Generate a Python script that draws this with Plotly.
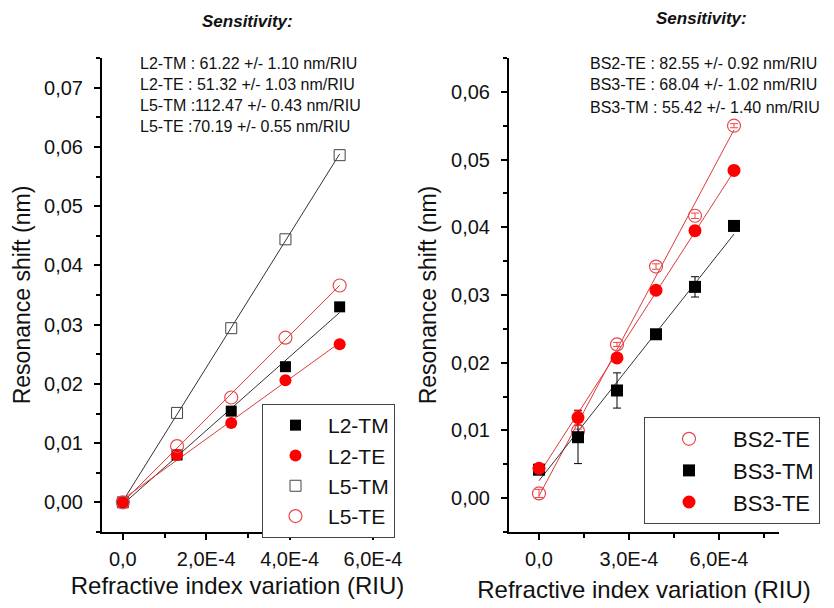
import numpy as np
import plotly.graph_objects as go

# ---------------- data ----------------
x_left = [0, 1.3e-4, 2.6e-4, 3.9e-4, 5.2e-4]
l2_tm = [0, 0.0080, 0.0154, 0.0229, 0.0330]
l2_te = [0, 0.0080, 0.0134, 0.0206, 0.0267]
l5_tm = [0, 0.0151, 0.0294, 0.0444, 0.0586]
l5_te = [0, 0.0095, 0.0177, 0.0278, 0.0366]

x_right = [0, 1.3e-4, 2.6e-4, 3.9e-4, 5.2e-4, 6.5e-4]
bs2_te = [0.0007, 0.0099, 0.0227, 0.0342, 0.0417, 0.0550]
bs2_te_err = [0.0006, 0.0003, 0.0003, 0.0004, 0.0004, 0.0003]
bs3_tm = [0.0042, 0.0090, 0.0159, 0.0242, 0.0312, 0.0402]
bs3_tm_err = [0.0003, 0.0039, 0.0026, 0.0004, 0.0015, 0.0003]
bs3_te = [0.0044, 0.0119, 0.0207, 0.0307, 0.0395, 0.0484]
bs3_te_err = [0.0002, 0.0011, 0.0003, 0.0003, 0.0003, 0.0002]

left_sens = ["L2-TM : 61.22 +/- 1.10 nm/RIU",
             "L2-TE : 51.32 +/- 1.03 nm/RIU",
             "L5-TM :112.47 +/- 0.43 nm/RIU",
             "L5-TE :70.19 +/- 0.55 nm/RIU"]
right_sens = ["BS2-TE : 82.55 +/- 0.92 nm/RIU",
              "BS3-TE : 68.04 +/- 1.02 nm/RIU",
              "BS3-TM : 55.42 +/- 1.40 nm/RIU"]

left_xticks = [0, 2e-4, 4e-4, 6e-4]
left_xticktext = ["0,0", "2,0E-4", "4,0E-4", "6,0E-4"]
left_xminor = [1e-4, 3e-4, 5e-4]
right_xticks = [0, 3e-4, 6e-4]
right_xticktext = ["0,0", "3,0E-4", "6,0E-4"]
right_xminor = [1.5e-4, 4.5e-4, 7.5e-4]
left_yticks = [0, 0.01, 0.02, 0.03, 0.04, 0.05, 0.06, 0.07]
left_yticktext = ["0,00", "0,01", "0,02", "0,03", "0,04", "0,05", "0,06", "0,07"]
left_yminor = [-0.005, 0.005, 0.015, 0.025, 0.035, 0.045, 0.055, 0.065, 0.075]
right_yticks = [0, 0.01, 0.02, 0.03, 0.04, 0.05, 0.06]
right_yticktext = ["0,00", "0,01", "0,02", "0,03", "0,04", "0,05", "0,06"]
right_yminor = [-0.005, 0.005, 0.015, 0.025, 0.035, 0.045, 0.055, 0.065]

# the page body has an 8px default margin, so the figure is drawn offset by 8px
OFF = 8
W, H = 834 - OFF, 608 - OFF
FONT = "Arial, Liberation Sans, sans-serif"
RED = "#ff0000"
LRED = "#e8484b"
LINE_RED = "#df3a3a"
LINE_BLK = "#333333"

def px(x):
    return (x - OFF) / W

def py(y):
    return 1 - (y - OFF) / H

fig = go.Figure()

def fit_line(xs, ys, color, xaxis, yaxis):
    k, b = np.polyfit(xs, ys, 1)
    xx = np.array([xs[0], xs[-1]])
    fig.add_trace(go.Scatter(x=xx, y=k * xx + b, mode="lines",
                             line=dict(color=color, width=1),
                             showlegend=False, hoverinfo="skip",
                             xaxis=xaxis, yaxis=yaxis))

# left fit lines
fit_line(x_left, l2_tm, LINE_BLK, "x", "y")
fit_line(x_left, l2_te, LINE_RED, "x", "y")
fit_line(x_left, l5_tm, LINE_BLK, "x", "y")
fit_line(x_left, l5_te, LINE_RED, "x", "y")

# left markers
fig.add_trace(go.Scatter(x=x_left, y=l2_tm, mode="markers", name="L2-TM",
                         marker=dict(symbol="square", size=11, color="black"),
                         xaxis="x", yaxis="y", legend="legend"))
fig.add_trace(go.Scatter(x=x_left, y=l2_te, mode="markers", name="L2-TE",
                         marker=dict(symbol="circle", size=12, color=RED),
                         xaxis="x", yaxis="y", legend="legend"))
fig.add_trace(go.Scatter(x=x_left, y=l5_tm, mode="markers", name="L5-TM",
                         marker=dict(symbol="square-open", size=11, color="#444444",
                                     line=dict(width=1)),
                         xaxis="x", yaxis="y", legend="legend"))
fig.add_trace(go.Scatter(x=x_left, y=l5_te, mode="markers", name="L5-TE",
                         marker=dict(symbol="circle-open", size=13, color=LRED,
                                     line=dict(width=1.2)),
                         xaxis="x", yaxis="y", legend="legend"))

# right fit lines
fit_line(x_right, bs2_te, LINE_RED, "x2", "y2")
fit_line(x_right, bs3_tm, LINE_BLK, "x2", "y2")
fit_line(x_right, bs3_te, LINE_RED, "x2", "y2")

fig.add_trace(go.Scatter(x=x_right, y=bs2_te, mode="markers", name="BS2-TE",
                         marker=dict(symbol="circle-open", size=13, color=LRED,
                                     line=dict(width=1.2)),
                         error_y=dict(type="data", array=bs2_te_err, color=LRED,
                                      thickness=1, width=4),
                         xaxis="x2", yaxis="y2", legend="legend2"))
fig.add_trace(go.Scatter(x=x_right, y=bs3_tm, mode="markers", name="BS3-TM",
                         marker=dict(symbol="square", size=12, color="black"),
                         error_y=dict(type="data", array=bs3_tm_err, color="black",
                                      thickness=1, width=4),
                         xaxis="x2", yaxis="y2", legend="legend2"))
fig.add_trace(go.Scatter(x=x_right, y=bs3_te, mode="markers", name="BS3-TE",
                         marker=dict(symbol="circle", size=13, color=RED),
                         error_y=dict(type="data", array=bs3_te_err, color=RED,
                                      thickness=1, width=4),
                         xaxis="x2", yaxis="y2", legend="legend2"))

axis_common = dict(showline=True, linecolor="black", linewidth=2, mirror=False,
                   ticks="outside", ticklen=6, tickwidth=2, tickcolor="black",
                   showgrid=False, zeroline=False, automargin=False,
                   tickfont=dict(family=FONT, size=20, color="#111111"))

ydom = [py(532), py(58)]
XT_FONT = dict(family=FONT, size=24, color="#111111")
YT_FONT = dict(family=FONT, size=23, color="#111111")

fig.update_layout(
    width=W, height=H,
    margin=dict(l=0, r=0, t=0, b=0, autoexpand=False),
    paper_bgcolor="white", plot_bgcolor="white",
    font=dict(family=FONT, color="#111111"),
    xaxis=dict(domain=[px(102), px(373)], range=[-0.5e-4, 6e-4], anchor="y",
               tickmode="array", tickvals=left_xticks, ticktext=left_xticktext,
               ticklabelstandoff=2,
               minor=dict(tickmode="array", tickvals=left_xminor, ticklen=4,
                          tickwidth=2, tickcolor="black", ticks="outside"),
               title=dict(text="Refractive index variation (RIU)", font=XT_FONT,
                          standoff=8),
               **axis_common),
    yaxis=dict(domain=ydom, range=[-0.005, 0.075], anchor="x",
               tickmode="array", tickvals=left_yticks, ticktext=left_yticktext,
               ticklabelstandoff=7,
               minor=dict(tickmode="array", tickvals=left_yminor, ticklen=4,
                          tickwidth=2, tickcolor="black", ticks="outside"),
               title=dict(text="Resonance shift (nm)", font=YT_FONT, standoff=7),
               **axis_common),
    xaxis2=dict(domain=[px(509), px(779)], range=[-1e-4, 8e-4], anchor="y2",
                tickmode="array", tickvals=right_xticks, ticktext=right_xticktext,
                ticklabelstandoff=2,
                minor=dict(tickmode="array", tickvals=right_xminor, ticklen=4,
                           tickwidth=2, tickcolor="black", ticks="outside"),
                title=dict(text="Refractive index variation (RIU)", font=XT_FONT,
                           standoff=12),
                **axis_common),
    yaxis2=dict(domain=ydom, range=[-0.005, 0.065], anchor="x2",
                tickmode="array", tickvals=right_yticks, ticktext=right_yticktext,
                ticklabelstandoff=7,
                minor=dict(tickmode="array", tickvals=right_yminor, ticklen=4,
                           tickwidth=2, tickcolor="black", ticks="outside"),
                title=dict(text="Resonance shift (nm)", font=YT_FONT, standoff=8),
                **axis_common),
    legend=dict(x=px(262), y=py(404), xanchor="left", yanchor="top",
                bordercolor="#444444", borderwidth=1, bgcolor="white",
                font=dict(family=FONT, size=21, color="#111111"),
                itemwidth=55, tracegroupgap=0),
    legend2=dict(x=px(644), y=py(417), xanchor="left", yanchor="top",
                 bordercolor="#444444", borderwidth=1, bgcolor="white",
                 font=dict(family=FONT, size=22, color="#111111"),
                 itemwidth=78, tracegroupgap=0),
    showlegend=True,
)

annotations = []
annotations.append(dict(x=px(247), y=py(21), xref="paper", yref="paper",
                        text="<b><i>Sensitivity:</i></b>", showarrow=False,
                        xanchor="center", yanchor="middle",
                        font=dict(family=FONT, size=17, color="#111111")))
annotations.append(dict(x=px(701), y=py(19), xref="paper", yref="paper",
                        text="<b><i>Sensitivity:</i></b>", showarrow=False,
                        xanchor="center", yanchor="middle",
                        font=dict(family=FONT, size=17, color="#111111")))
for i, t in enumerate(left_sens):
    annotations.append(dict(x=px(138), y=py(63 + 21.3 * i), xref="paper", yref="paper",
                            text=t, showarrow=False, xanchor="left", yanchor="middle",
                            font=dict(family=FONT, size=16, color="#111111")))
for i, t in enumerate(right_sens):
    annotations.append(dict(x=px(588), y=py(63 + 22 * i), xref="paper", yref="paper",
                            text=t, showarrow=False, xanchor="left", yanchor="middle",
                            font=dict(family=FONT, size=16, color="#111111")))
fig.update_layout(annotations=annotations)

fig.write_html("out.html")
